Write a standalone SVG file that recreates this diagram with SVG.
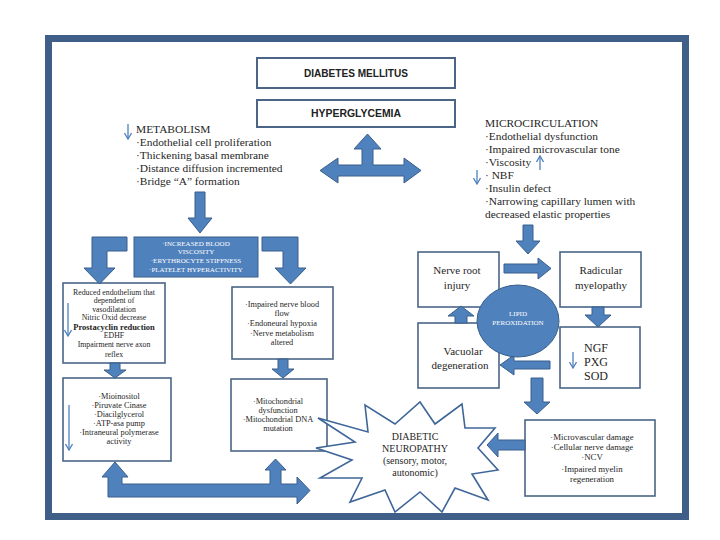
<svg xmlns="http://www.w3.org/2000/svg" width="720" height="540" viewBox="0 0 720 540">
<defs>
<style>
.frame{fill:#fff;stroke:#3f5f88;stroke-width:7}
.box{fill:#fff;stroke:#4a6585;stroke-width:1.6}
.tbox{fill:#fff;stroke:#4a6585;stroke-width:2}
.blk{fill:#4f81bd;stroke:#3a5f8b;stroke-width:1}
.thin{stroke:#4f81bd;stroke-width:1.3;fill:none}
.ttl{font-family:'Liberation Sans',Arial,sans-serif;font-weight:bold;font-size:11px;fill:#222;text-anchor:middle}
.s{font-family:'Liberation Serif','Times New Roman',serif;fill:#262626}
.m{font-size:11.4px}
.c{text-anchor:middle}
.sm{font-size:7.8px;fill:#1e1e1e}
.w{fill:#fff;font-family:'Liberation Serif','Times New Roman',serif;font-size:7px;text-anchor:middle}
</style>
<marker id="ah" markerWidth="8" markerHeight="8" refX="7" refY="4" orient="auto" markerUnits="userSpaceOnUse">
<path d="M1,0.5 L7,4 L1,7.5" fill="none" stroke="#4f81bd" stroke-width="1.3"/>
</marker>
</defs>
<rect width="720" height="540" fill="#fff"/>
<rect class="frame" x="48.5" y="38.5" width="637" height="478"/>

<g id="diabetes"><rect class="tbox" x="257" y="58" width="198" height="30"/><text class="ttl" x="356" y="77" textLength="104" lengthAdjust="spacingAndGlyphs">DIABETES MELLITUS</text></g>
<g id="hyperglycemia"><rect class="tbox" x="257" y="100" width="198" height="27"/><text class="ttl" x="356" y="117" textLength="90" lengthAdjust="spacingAndGlyphs">HYPERGLYCEMIA</text></g>

<g id="metabolism" class="s m" font-family="'Liberation Serif', serif">
<text x="136" y="133">METABOLISM</text>
<text x="136" y="146">·Endothelial cell proliferation</text>
<text x="136" y="159">·Thickening basal membrane</text>
<text x="136" y="172">·Distance diffusion incremented</text>
<text x="136" y="185">·Bridge “A” formation</text>
</g>

<g id="microcirculation" class="s m" font-family="'Liberation Serif', serif">
<text x="485" y="127">MICROCIRCULATION</text>
<text x="485" y="140">·Endothelial dysfunction</text>
<text x="485" y="153">·Impaired microvascular tone</text>
<text x="485" y="166">·Viscosity</text>
<text x="485" y="179">· NBF</text>
<text x="485" y="192">·Insulin defect</text>
<text x="485" y="205">·Narrowing capillary lumen with</text>
<text x="485" y="218">decreased elastic properties</text>
</g>

<g id="blood-viscosity"><rect class="blk" x="134" y="237" width="124" height="40"/>
<g font-family="'Liberation Serif', serif">
<text class="w" x="196" y="246">·INCREASED BLOOD</text>
<text class="w" x="196" y="254">VISCOSITY</text>
<text class="w" x="196" y="263">·ERYTHROCYTE  STIFFNESS</text>
<text class="w" x="196" y="272">·PLATELET  HYPERACTIVITY</text>
</g></g>

<g id="reduced-endothelium"><rect class="box" x="63" y="283" width="102" height="80"/>
<g class="s sm c" font-family="'Liberation Serif', serif">
<text x="114" y="295">Reduced endothelium that</text>
<text x="114" y="303">dependent of</text>
<text x="114" y="312">vasodilatation</text>
<text x="114" y="320">Nitric Oxid decrease</text>
<text x="114" y="330" font-weight="bold" font-size="8.5">Prostacyclin reduction</text>
<text x="114" y="338">EDHF</text>
<text x="114" y="347">Impairment nerve axon</text>
<text x="114" y="357">reflex</text>
</g></g>

<g id="impaired-blood-flow"><rect class="box" x="232" y="287" width="101" height="72"/>
<g class="s c" font-size="8.3" font-family="'Liberation Serif', serif">
<text x="282" y="307">·Impaired nerve blood</text>
<text x="282" y="316">flow</text>
<text x="282" y="326">·Endoneural hypoxia</text>
<text x="282" y="336">·Nerve metabolism</text>
<text x="282" y="345">altered</text>
</g></g>

<g id="mioinositol"><rect class="box" x="63" y="378" width="108" height="83"/>
<g class="s c" font-size="8.3" font-family="'Liberation Serif', serif">
<text x="119" y="399">·Mioinositol</text>
<text x="119" y="408">·Piruvate Cinase</text>
<text x="119" y="417">·Diacilglycerol</text>
<text x="119" y="426">·ATP-asa pump</text>
<text x="119" y="435">·Intraneural polymerase</text>
<text x="119" y="444">activity</text>
</g></g>

<g id="mitochondrial"><rect class="box" x="231" y="379" width="96" height="72"/>
<g class="s c" font-size="8.3" font-family="'Liberation Serif', serif">
<text x="278" y="404">·Mitochondrial</text>
<text x="278" y="413">dysfunction</text>
<text x="278" y="422">·Mitochondrial DNA</text>
<text x="278" y="431">mutation</text>
</g></g>

<g id="nerve-root"><rect class="box" x="418" y="252" width="81" height="55"/>
<g class="s c" font-size="11" font-family="'Liberation Serif', serif"><text x="457" y="274">Nerve root</text><text x="457" y="289">injury</text></g></g>
<g id="radicular"><rect class="box" x="560" y="252" width="81" height="55"/>
<g class="s c" font-size="11" font-family="'Liberation Serif', serif"><text x="601" y="274">Radicular</text><text x="601" y="289">myelopathy</text></g></g>
<g id="vacuolar"><rect class="box" x="418" y="323" width="81" height="65"/>
<g class="s c" font-size="11" font-family="'Liberation Serif', serif"><text x="463" y="355">Vacuolar</text><text x="460" y="369">degeneration</text></g></g>
<g id="ngf"><rect class="box" x="560" y="327" width="80" height="61"/>
<g class="s" font-size="12" font-family="'Liberation Serif', serif"><text x="584" y="352">NGF</text><text x="584" y="366">PXG</text><text x="584" y="380">SOD</text></g></g>

<g id="damage"><rect class="box" x="525" y="420" width="130" height="76"/>
<g class="s c" font-size="8.8" font-family="'Liberation Serif', serif">
<text x="592" y="440">·Microvascular damage</text>
<text x="592" y="450">·Cellular nerve damage</text>
<text x="592" y="460">·NCV</text>
<text x="592" y="472">·Impaired myelin</text>
<text x="592" y="482">regeneration</text>
</g></g>

<g id="connectors">
<path class="blk" d="M320,170.5 L338,158 L338,165 L362,165 L362,149 L354,149 L367.5,134 L381,149 L373,149 L373,165 L404,165 L404,158 L421,170.5 L404,183 L404,176 L338,176 L338,183 Z"/>
<path class="blk" d="M195,192 H205 V218 H212 L200,233 L188,218 H195 Z"/>
<path class="blk" d="M127,237 V251 H107 V268 H115 L99.5,284 L84,268 H92 V237 Z"/>
<path class="blk" d="M262,237 H298 V268 H306 L290.5,284 L275,268 H283 V251 H262 Z"/>
<path class="blk" d="M110,363 H120 V370 H126 L115,378 L104,370 H110 Z"/>
<path class="blk" d="M278,359 H288 V369 H294 L283,378 L272,369 H278 Z"/>
<path class="blk" d="M115,462 L128,477 H122 V484 H270 V470 H265 L275.5,459 L286,470 H281 V484 H297 V477 L310,490.5 L297,504 V497 H108 V477 H102 Z"/>
<path class="blk" d="M523,225 H533 V241 H540 L528,254 L516,241 H523 Z"/>
<path class="blk" d="M504,264 H538 V258 L551,268.5 L538,279 V273 H504 Z"/>
<path class="blk" d="M592,307 H604 V315 H611 L598,327 L585,315 H592 Z"/>
<path class="blk" d="M550,361 H514 V355 L500,365 L514,375 V369 H550 Z"/>
<path class="blk" d="M455,323 V316 H448 L461,306 L474,316 H467 V323 Z"/>
<path class="blk" d="M531,378 H543 V402 H550 L537,414 L524,402 H531 Z"/>
<path class="blk" d="M525,440 H498 V433 L487,445 L498,457 V450 H525 Z"/>
<line class="thin" x1="128" y1="124" x2="128" y2="139" marker-end="url(#ah)"/>
<line class="thin" x1="540" y1="170" x2="540" y2="156" marker-end="url(#ah)"/>
<line class="thin" x1="477" y1="170" x2="477" y2="184" marker-end="url(#ah)"/>
<line class="thin" x1="68" y1="303" x2="68" y2="336" marker-end="url(#ah)"/>
<line class="thin" x1="69" y1="405" x2="69" y2="450" marker-end="url(#ah)"/>
<line class="thin" x1="573" y1="352" x2="573" y2="368" marker-end="url(#ah)"/>
</g>

<g id="lipid-peroxidation"><ellipse class="blk" cx="518" cy="321" rx="41" ry="36"/>
<g font-family="'Liberation Serif', serif"><text class="w" x="518" y="316">LIPID</text><text class="w" x="518" y="325">PEROXIDATION</text></g></g>

<g id="neuropathy">
<polygon points="318,418 368,432 365,405 395,424 420,402 435,424 462,404 465,428 495,428 478,448 498,470 472,474 488,500 455,488 442,512 420,492 395,512 385,490 350,502 362,478 320,478 352,460 316,448 355,442" fill="#fff" stroke="#3f6699" stroke-width="1.6"/>
<g class="s c" font-size="10" font-family="'Liberation Serif', serif">
<text x="415" y="440">DIABETIC</text>
<text x="415" y="452">NEUROPATHY</text>
<text x="415" y="464">(sensory, motor,</text>
<text x="415" y="476">autonomic)</text>
</g></g>
</svg>
